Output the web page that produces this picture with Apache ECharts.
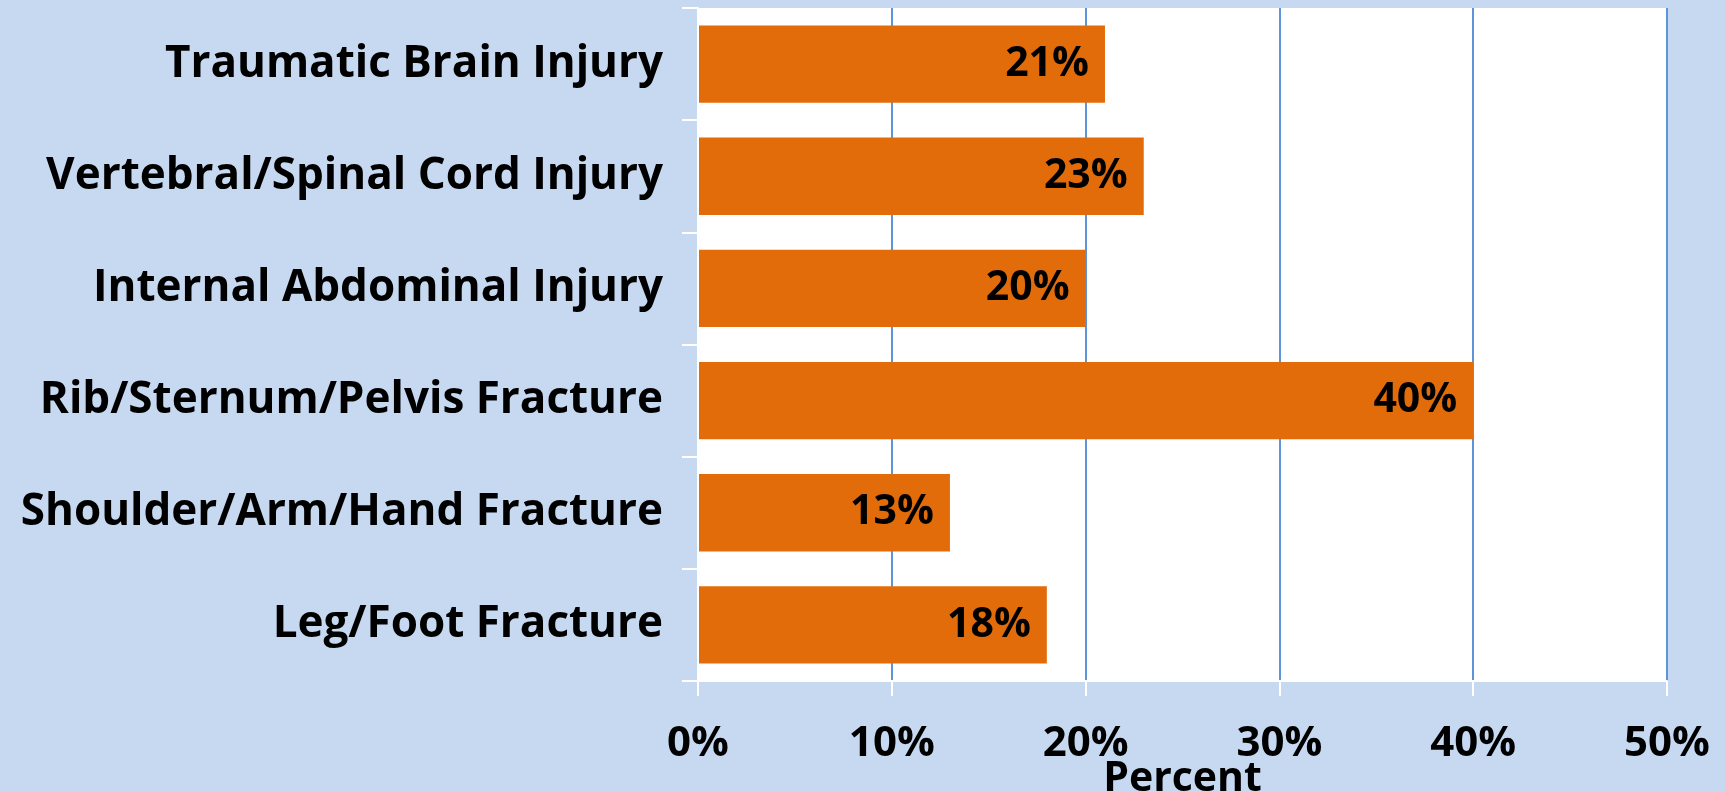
<!DOCTYPE html>
<html>
<head>
<meta charset="utf-8">
<script src="https://cdn.jsdelivr.net/npm/echarts@6/dist/echarts.min.js"></script>
<style>
html,body{margin:0;padding:0;background:#C6D9F1;overflow:hidden;}
#chart{width:1725px;height:792px;}
</style>
</head>
<body>
<div id="chart"></div>
<script>
const categories = [
  "Traumatic Brain Injury",
  "Vertebral/Spinal Cord Injury",
  "Internal Abdominal Injury",
  "Rib/Sternum/Pelvis Fracture",
  "Shoulder/Arm/Hand Fracture",
  "Leg/Foot Fracture"
];
const percentValues = [21, 23, 20, 40, 13, 18];
const xTicks = { min: 0, max: 50, interval: 10 };
const axisTitle = "Percent";

const el = document.getElementById('chart');
const chart = echarts.init(el);
const font = 'Open Sans';
chart.setOption({
  backgroundColor: '#C6D9F1',
  animation: false,
  grid: {
    left: 698, right: 58, top: 8, bottom: 111,
    outerBoundsMode: 'none',
    containLabel: false,
    show: true, backgroundColor: '#FFFFFF', borderWidth: 0
  },
  xAxis: {
    type: 'value',
    min: xTicks.min, max: xTicks.max, interval: xTicks.interval,
    name: axisTitle,
    nameLocation: 'middle',
    nameGap: 78,
    nameMoveOverlap: false,
    nameTextStyle: { fontFamily: font, fontWeight: 'bold', fontSize: 41, color: '#000' },
    axisLine: { show: true, lineStyle: { color: '#FFFFFF', width: 2 } },
    axisTick: { show: true, length: 15, lineStyle: { color: '#FFFFFF', width: 2 } },
    axisLabel: {
      margin: 42,
      formatter: v => v + '%',
      fontFamily: font, fontWeight: 'bold', fontSize: 42, color: '#000'
    },
    splitLine: { show: true, lineStyle: { color: '#5E94D8', width: 2 } }
  },
  yAxis: {
    type: 'category',
    data: categories,
    inverse: true,
    axisLine: { show: true, lineStyle: { color: '#FFFFFF', width: 2 } },
    axisTick: { show: true, length: 16, lineStyle: { color: '#FFFFFF', width: 2 } },
    axisLabel: {
      margin: 35,
      fontFamily: font, fontWeight: 'bold', fontSize: 44, color: '#000'
    },
    z: 5
  },
  series: [{
    type: 'bar',
    data: percentValues,
    barCategoryGap: '31%',
    itemStyle: { color: '#E36C0A' },
    label: {
      show: true,
      position: 'insideRight',
      distance: 16,
      formatter: p => p.value + '%',
      fontFamily: font, fontWeight: 'bold', fontSize: 41, color: '#000'
    }
  }]
});
</script>
</body>
</html>
